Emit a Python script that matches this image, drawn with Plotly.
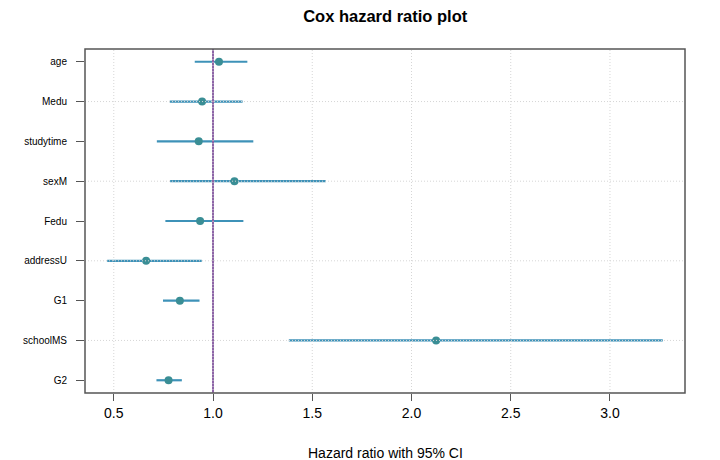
import plotly.graph_objects as go

variables = ["age", "Medu", "studytime", "sexM", "Fedu", "addressU", "G1", "schoolMS", "G2"]
hazard_ratio = [1.03, 0.945, 0.928, 1.108, 0.935, 0.663, 0.833, 2.124, 0.776]
ci_lower = [0.908, 0.782, 0.717, 0.784, 0.760, 0.467, 0.748, 1.382, 0.715]
ci_upper = [1.173, 1.149, 1.203, 1.568, 1.153, 0.943, 0.932, 3.266, 0.843]
x_ticks = [0.5, 1.0, 1.5, 2.0, 2.5, 3.0]
x_tick_labels = ["0.5", "1.0", "1.5", "2.0", "2.5", "3.0"]
y_grid = [2, 4, 6, 8]
ref_value = 1.0

n = len(variables)
ypos = [n - i for i in range(n)]

line_color = "#3E92B8"
point_color = "#3A8E95"
grid_color = "#D6D6D6"

fig = go.Figure()

# CI segments
for i in range(n):
    fig.add_trace(go.Scatter(
        x=[ci_lower[i], ci_upper[i]], y=[ypos[i], ypos[i]],
        mode="lines", line=dict(color=line_color, width=2.2),
        showlegend=False, hoverinfo="skip"))

# points
fig.add_trace(go.Scatter(
    x=hazard_ratio, y=ypos, mode="markers",
    marker=dict(color=point_color, size=8),
    showlegend=False))

lo = min(ci_lower)
hi = max(ci_upper)
pad = (hi - lo) * 0.04
xr = [lo - pad, hi + pad]
yr = [1 - (n - 1) * 0.04, n + (n - 1) * 0.04]

shapes = []
# reference line
shapes.append(dict(type="line", xref="x", yref="paper", x0=ref_value, x1=ref_value,
                   y0=0, y1=1, line=dict(color="#8E64A8", width=2), layer="above"))
# grid drawn on top (like R grid())
for xv in x_ticks:
    shapes.append(dict(type="line", xref="x", yref="paper", x0=xv, x1=xv, y0=0, y1=1,
                       line=dict(color=grid_color, width=1, dash="1px,2px"), layer="above"))
for yv in y_grid:
    shapes.append(dict(type="line", xref="paper", yref="y", x0=0, x1=1, y0=yv, y1=yv,
                       line=dict(color=grid_color, width=1, dash="1px,2px"), layer="above"))
# box
shapes.append(dict(type="rect", xref="paper", yref="paper", x0=0, x1=1, y0=0, y1=1,
                   line=dict(color="#555555", width=1.5), layer="above"))

fig.update_layout(
    width=720, height=460,
    margin=dict(l=85, r=35, t=49, b=67),
    paper_bgcolor="white", plot_bgcolor="white",
    font=dict(family="Liberation Sans, Arial, sans-serif", color="#000000"),
    title=dict(text="<b>Cox hazard ratio plot</b>", x=0.535,
               xanchor="center", y=0.965, yanchor="middle",
               font=dict(size=16.5, color="#000000")),
    shapes=shapes,
    annotations=[dict(text="Hazard ratio with 95% CI", xref="paper", yref="paper",
                      x=0.5, y=0, yshift=-60, xanchor="center", yanchor="middle",
                      showarrow=False, font=dict(size=14, color="#000000"))],
    xaxis=dict(range=xr, tickvals=x_ticks, ticktext=x_tick_labels,
               showgrid=False, zeroline=False, ticks="outside", ticklen=7,
               tickcolor="#555555", tickwidth=1, tickfont=dict(size=14),
               showline=False, automargin=False),
    yaxis=dict(range=yr, tickvals=ypos, ticktext=variables,
               showgrid=False, zeroline=False, ticks="outside", ticklen=8,
               tickcolor="#555555", tickwidth=1, tickfont=dict(size=10),
               ticklabelstandoff=7, showline=False, automargin=False),
)

fig.write_html("out.html")
